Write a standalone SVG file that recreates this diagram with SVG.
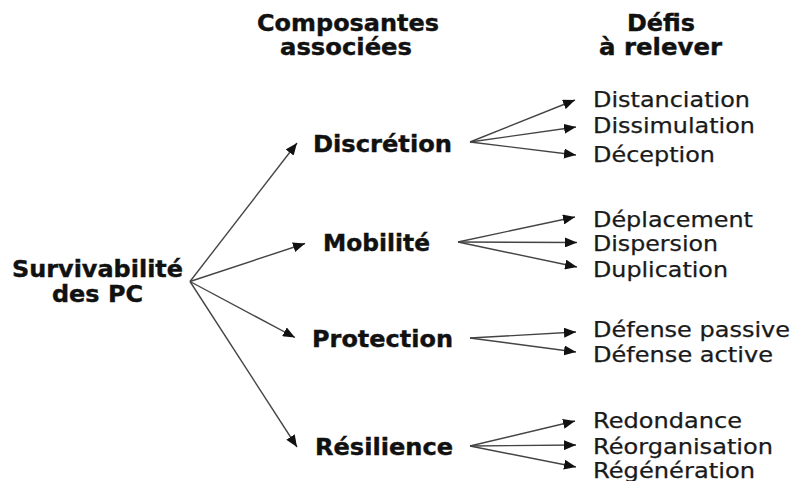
<svg xmlns="http://www.w3.org/2000/svg" width="794" height="481" viewBox="0 0 794 481">
<style>
.b{font-family:"DejaVu Sans","Verdana",sans-serif;font-weight:bold;font-size:23px;fill:#111;stroke:#111;stroke-width:0.4}
.r{font-family:"DejaVu Sans","Verdana",sans-serif;font-size:20.5px;fill:#1a1a1a;stroke:#1a1a1a;stroke-width:0.25}
.c{stroke:#444;stroke-width:1.4;fill:none;marker-end:url(#ah)}
</style>
<defs>
<marker id="ah" markerUnits="userSpaceOnUse" viewBox="0 0 12 10" refX="12" refY="5" markerWidth="12" markerHeight="10" orient="auto">
<path d="M0,0 L12,5 L0,10 z" fill="#111"/>
</marker>
</defs>
<rect width="794" height="481" fill="#fff"/>
<g id="headers">
<text class="b" x="257" y="31" textLength="182" lengthAdjust="spacingAndGlyphs">Composantes</text>
<text class="b" x="280" y="54.5" textLength="132" lengthAdjust="spacingAndGlyphs">associées</text>
<text class="b" x="627" y="31" textLength="68" lengthAdjust="spacingAndGlyphs">Défis</text>
<text class="b" x="599" y="54.5" textLength="123" lengthAdjust="spacingAndGlyphs">à relever</text>
</g>
<g id="connectors">
<line class="c" x1="190" y1="281.5" x2="297" y2="143"/>
<line class="c" x1="190" y1="281.5" x2="305" y2="243.5"/>
<line class="c" x1="190" y1="281.5" x2="295" y2="337.5"/>
<line class="c" x1="190" y1="281.5" x2="297" y2="447"/>
<line class="c" x1="470" y1="142" x2="575" y2="100"/>
<line class="c" x1="470" y1="142" x2="576" y2="127"/>
<line class="c" x1="470" y1="142" x2="576" y2="155"/>
<line class="c" x1="458" y1="242" x2="575" y2="217"/>
<line class="c" x1="458" y1="242" x2="577" y2="242.5"/>
<line class="c" x1="458" y1="242" x2="577" y2="267"/>
<line class="c" x1="470" y1="338" x2="576" y2="332"/>
<line class="c" x1="470" y1="338" x2="576" y2="352"/>
<line class="c" x1="470" y1="446" x2="575" y2="421"/>
<line class="c" x1="470" y1="446" x2="576" y2="445"/>
<line class="c" x1="470" y1="446" x2="576" y2="467"/>
</g>
<g id="root">
<text class="b" x="12" y="276.5" textLength="171" lengthAdjust="spacingAndGlyphs">Survivabilité</text>
<text class="b" x="52" y="301.5" textLength="91" lengthAdjust="spacingAndGlyphs">des PC</text>
</g>
<g id="discretion"><text class="b" x="313" y="151.5" textLength="139" lengthAdjust="spacingAndGlyphs">Discrétion</text></g>
<g id="mobilite"><text class="b" x="323" y="250.5" textLength="107" lengthAdjust="spacingAndGlyphs">Mobilité</text></g>
<g id="protection"><text class="b" x="312" y="346.5" textLength="141" lengthAdjust="spacingAndGlyphs">Protection</text></g>
<g id="resilience"><text class="b" x="315" y="454.5" textLength="138" lengthAdjust="spacingAndGlyphs">Résilience</text></g>
<g id="distanciation"><text class="r" x="593" y="106.5" textLength="157" lengthAdjust="spacingAndGlyphs">Distanciation</text></g>
<g id="dissimulation"><text class="r" x="593" y="133" textLength="162" lengthAdjust="spacingAndGlyphs">Dissimulation</text></g>
<g id="deception"><text class="r" x="593" y="161.5" textLength="122" lengthAdjust="spacingAndGlyphs">Déception</text></g>
<g id="deplacement"><text class="r" x="593" y="226.5" textLength="160" lengthAdjust="spacingAndGlyphs">Déplacement</text></g>
<g id="dispersion"><text class="r" x="593" y="250.5" textLength="125" lengthAdjust="spacingAndGlyphs">Dispersion</text></g>
<g id="duplication"><text class="r" x="593" y="276.5" textLength="135" lengthAdjust="spacingAndGlyphs">Duplication</text></g>
<g id="defense-passive"><text class="r" x="593" y="336.5" textLength="197" lengthAdjust="spacingAndGlyphs">Défense passive</text></g>
<g id="defense-active"><text class="r" x="593" y="361.5" textLength="180" lengthAdjust="spacingAndGlyphs">Défense active</text></g>
<g id="redondance"><text class="r" x="593" y="428" textLength="149" lengthAdjust="spacingAndGlyphs">Redondance</text></g>
<g id="reorganisation"><text class="r" x="593" y="454" textLength="180" lengthAdjust="spacingAndGlyphs">Réorganisation</text></g>
<g id="regeneration"><text class="r" x="593" y="477.5" textLength="162" lengthAdjust="spacingAndGlyphs">Régénération</text></g>
</svg>
